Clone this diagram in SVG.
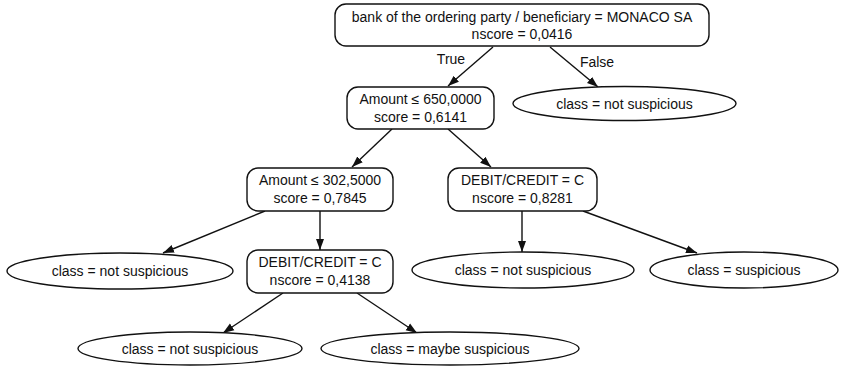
<svg xmlns="http://www.w3.org/2000/svg" width="841" height="366" viewBox="0 0 841 366">
<defs>
<marker id="ah" markerWidth="12" markerHeight="9" refX="11" refY="4.5" orient="auto" markerUnits="userSpaceOnUse">
<path d="M0,0.5 L11,4.5 L0,8.5 Z" fill="#111"/>
</marker>
<style>
.n{fill:#fff;stroke:#111;stroke-width:1.4}
.t{font-family:"Liberation Sans",Arial,sans-serif;font-size:14px;fill:#111;text-anchor:middle}
.e{stroke:#111;stroke-width:1.4;fill:none;marker-end:url(#ah)}
</style>
</defs>
<rect width="841" height="366" fill="#fff"/>
<g id="edges">
<line class="e" x1="493" y1="47" x2="448" y2="86"/>
<line class="e" x1="550" y1="47" x2="598" y2="87"/>
<line class="e" x1="392" y1="129" x2="352" y2="167"/>
<line class="e" x1="448" y1="129" x2="491" y2="167"/>
<line class="e" x1="265" y1="211" x2="163" y2="253"/>
<line class="e" x1="320" y1="211" x2="320" y2="250"/>
<line class="e" x1="522" y1="211" x2="522" y2="252"/>
<line class="e" x1="583" y1="211" x2="697" y2="253"/>
<line class="e" x1="283" y1="293" x2="223" y2="333"/>
<line class="e" x1="357" y1="293" x2="417" y2="333"/>
<text class="t" x="451" y="64">True</text>
<text class="t" x="597" y="67">False</text>
</g>
<g id="root">
<rect class="n" x="335" y="4" width="374" height="42" rx="11"/>
<text class="t" x="522" y="22">bank of the ordering party / beneficiary = MONACO SA</text>
<text class="t" x="522" y="39">nscore = 0,0416</text>
</g>
<g id="amount650">
<rect class="n" x="347" y="87" width="147" height="42" rx="11"/>
<text class="t" x="420.5" y="104">Amount ≤ 650,0000</text>
<text class="t" x="420.5" y="122">score = 0,6141</text>
</g>
<g id="leafTopRight">
<ellipse class="n" cx="624.5" cy="103.5" rx="111.5" ry="17"/>
<text class="t" x="624.5" y="108.5">class = not suspicious</text>
</g>
<g id="amount302">
<rect class="n" x="247" y="168" width="146" height="43" rx="11"/>
<text class="t" x="320" y="185">Amount ≤ 302,5000</text>
<text class="t" x="320" y="203">score = 0,7845</text>
</g>
<g id="dcRight">
<rect class="n" x="448" y="168" width="149" height="43" rx="11"/>
<text class="t" x="522.5" y="185">DEBIT/CREDIT = C</text>
<text class="t" x="522.5" y="203">nscore = 0,8281</text>
</g>
<g id="leafLeft">
<ellipse class="n" cx="120" cy="271" rx="113" ry="18"/>
<text class="t" x="120" y="276">class = not suspicious</text>
</g>
<g id="dcMid">
<rect class="n" x="247" y="250" width="146" height="43" rx="11"/>
<text class="t" x="320" y="267">DEBIT/CREDIT = C</text>
<text class="t" x="320" y="285">nscore = 0,4138</text>
</g>
<g id="leafMidRight">
<ellipse class="n" cx="523" cy="270" rx="111" ry="18"/>
<text class="t" x="523" y="275">class = not suspicious</text>
</g>
<g id="leafSusp">
<ellipse class="n" cx="744" cy="270" rx="94" ry="18"/>
<text class="t" x="744" y="275">class = suspicious</text>
</g>
<g id="leafBottomLeft">
<ellipse class="n" cx="190" cy="348.5" rx="112" ry="16.5"/>
<text class="t" x="190" y="353.5">class = not suspicious</text>
</g>
<g id="leafMaybe">
<ellipse class="n" cx="450" cy="348.5" rx="129" ry="16.5"/>
<text class="t" x="450" y="353.5">class = maybe suspicious</text>
</g>
</svg>
